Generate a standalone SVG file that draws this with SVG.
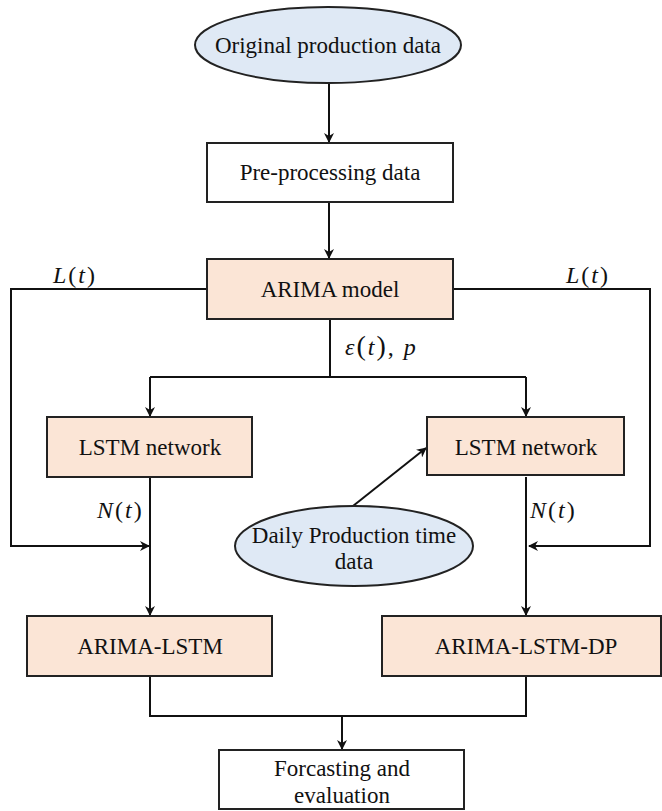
<svg xmlns="http://www.w3.org/2000/svg" width="662" height="811" viewBox="0 0 662 811" font-family="Liberation Serif">
<style>
.box{stroke:#222;stroke-width:2}
.peach{fill:#fbe5d6}
.white{fill:#ffffff}
.blue{fill:#dfe9f5}
.c{fill:none;stroke:#111;stroke-width:2}
</style>
<defs>
<marker id="ah" markerWidth="10" markerHeight="10" refX="9" refY="5" orient="auto" markerUnits="userSpaceOnUse">
<path d="M0,0 L10,5 L0,10 L3,5 Z" fill="#111"/>
</marker>
</defs>
<rect width="662" height="811" fill="#ffffff"/>
<g id="connectors">
<path class="c" d="M329,83 L329,142" marker-end="url(#ah)"/>
<path class="c" d="M329,202 L329,258" marker-end="url(#ah)"/>
<path class="c" d="M207,289 L11,289 L11,546 L149,546" marker-end="url(#ah)"/>
<path class="c" d="M453,289 L650,289 L650,546 L529,546" marker-end="url(#ah)"/>
<path class="c" d="M330,319 L330,377"/>
<path class="c" d="M150,377 L526,377"/>
<path class="c" d="M150,377 L150,416" marker-end="url(#ah)"/>
<path class="c" d="M526,377 L526,416" marker-end="url(#ah)"/>
<path class="c" d="M150,477 L150,615" marker-end="url(#ah)"/>
<path class="c" d="M526,477 L526,615" marker-end="url(#ah)"/>
<path class="c" d="M353,506 L426,448" marker-end="url(#ah)"/>
<path class="c" d="M150,676 L150,716 L526,716 L526,676"/>
<path class="c" d="M342,716 L342,749" marker-end="url(#ah)"/>
</g>
<g id="labels" font-family="Liberation Serif" font-size="24" fill="#111" letter-spacing="2">
<text x="53" y="283"><tspan font-style="italic">L</tspan>(<tspan font-style="italic">t</tspan>)</text>
<text x="566" y="283"><tspan font-style="italic">L</tspan>(<tspan font-style="italic">t</tspan>)</text>
<text x="345" y="355"><tspan font-style="italic">ε</tspan><tspan font-size="28">(</tspan><tspan font-style="italic">t</tspan><tspan font-size="28">)</tspan>, <tspan font-style="italic">p</tspan></text>
<text x="97" y="518"><tspan font-style="italic">N</tspan>(<tspan font-style="italic">t</tspan>)</text>
<text x="530" y="518"><tspan font-style="italic">N</tspan>(<tspan font-style="italic">t</tspan>)</text>
</g>
<g font-family="Liberation Serif" font-size="23" fill="#111" text-anchor="middle">
<g id="orig">
<ellipse class="box blue" cx="328" cy="45" rx="133" ry="38"/>
<text x="328" y="53">Original production data</text>
</g>
<g id="pre">
<rect class="box white" x="207" y="143" width="246" height="59"/>
<text x="330" y="180">Pre-processing data</text>
</g>
<g id="arima">
<rect class="box peach" x="207" y="259" width="246" height="60"/>
<text x="330" y="297">ARIMA model</text>
</g>
<g id="lstm1">
<rect class="box peach" x="47" y="417" width="205" height="60"/>
<text x="150" y="455">LSTM network</text>
</g>
<g id="lstm2">
<rect class="box peach" x="427" y="417" width="197" height="58"/>
<text x="526" y="455">LSTM network</text>
</g>
<g id="daily">
<ellipse class="box blue" cx="354" cy="546" rx="119" ry="40"/>
<text x="354" y="543">Daily Production time</text>
<text x="354" y="569">data</text>
</g>
<g id="al">
<rect class="box peach" x="27" y="616" width="245" height="60"/>
<text x="150" y="654">ARIMA-LSTM</text>
</g>
<g id="aldp">
<rect class="box peach" x="382" y="616" width="279" height="60"/>
<text x="526" y="654">ARIMA-LSTM-DP</text>
</g>
<g id="fc">
<rect class="box white" x="219" y="750" width="245" height="59"/>
<text x="342" y="776">Forcasting and</text>
<text x="342" y="803">evaluation</text>
</g>
</g>
</svg>
